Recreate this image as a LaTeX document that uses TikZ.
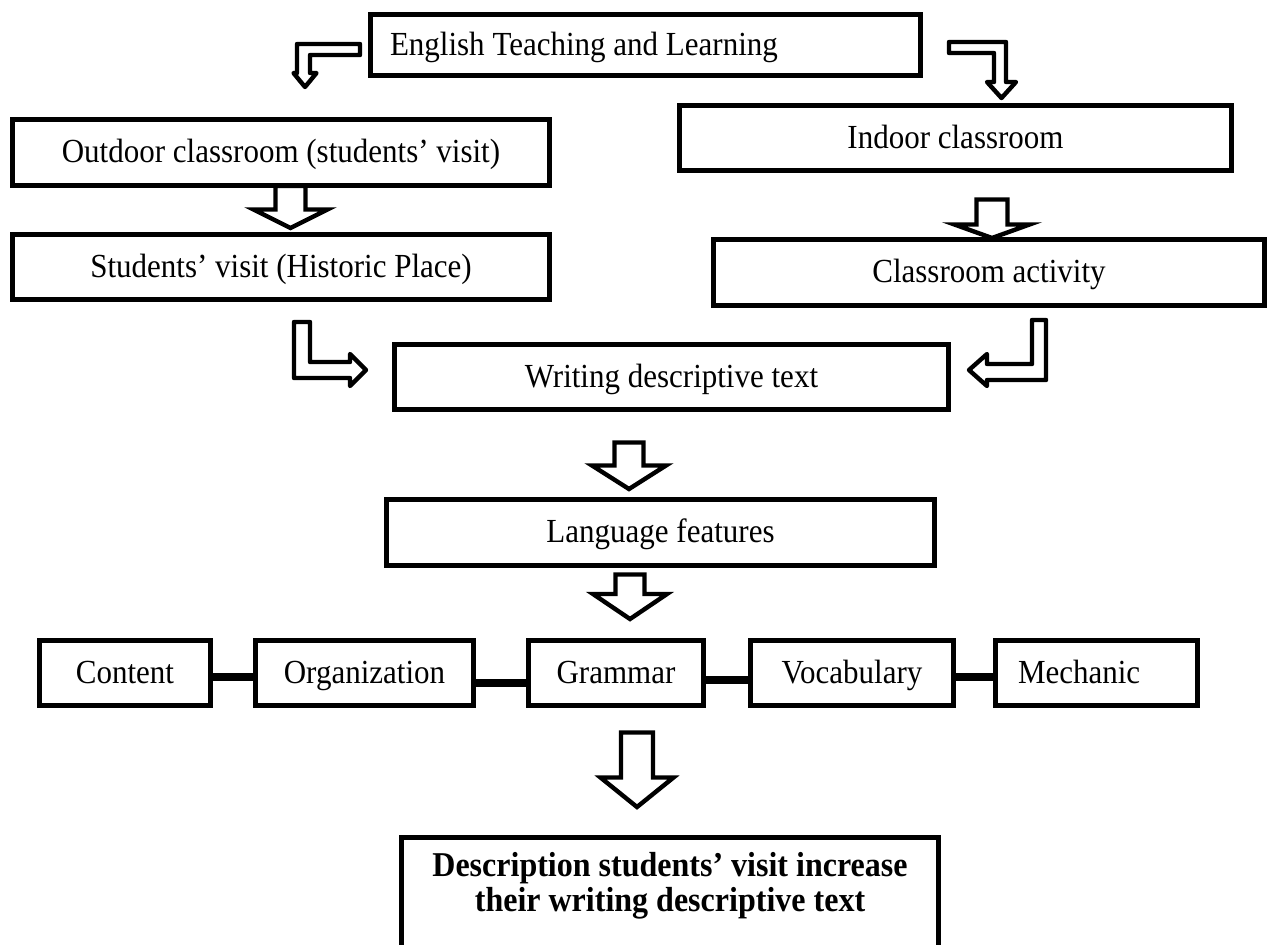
\documentclass[tikz,border=0pt]{standalone}
\usepackage{fontspec}
\setmainfont{Liberation Serif}[FakeStretch=0.92]
\newcommand\dnblock[6]{% cx, top, base, tip, shaft half, head half
  \draw[blockarrow] ({#1-#5},#2) -- ({#1-#5},#3) -- ({#1-#6},#3) -- (#1,#4) -- ({#1+#6},#3) -- ({#1+#5},#3) -- ({#1+#5},#2) -- cycle;}
\tikzset{
  flowbox/.style={draw, line width=2.5pt, rectangle, fill=white, inner sep=0pt,
    font=\fontsize{16.85pt}{19pt}\selectfont, text height=13pt, text depth=2.6pt},
  blockarrow/.style={draw, line width=2.2pt, fill=white, line join=miter},
  bentarrow/.style={draw, line width=2.2pt, fill=white, line join=round},
  link/.style={line width=4pt, line cap=round},
}
\begin{document}
\begin{tikzpicture}[x=0.5pt, y=-0.5pt]
\useasboundingbox (0,0) rectangle (1281,944);
\fill[white] (0,0) rectangle (1281,944);

% block arrows (down)
\dnblock{290.5}{186}{209.5}{228}{15}{37}
\dnblock{992}{199.5}{224.5}{238}{15.5}{37.5}
\dnblock{629}{442.5}{465.5}{489}{14.5}{37}
\dnblock{630}{574.5}{594}{619}{14.5}{37}
\dnblock{637}{732.5}{777.5}{807}{16}{36.5}

% bent arrows
\draw[bentarrow] (360,44) -- (297,44) -- (297,73) -- (293.5,73) -- (305,87) -- (316.5,73) -- (310,73) -- (310,55) -- (360,55) -- cycle;
\draw[bentarrow] (949,42) -- (1006,42) -- (1006,82) -- (1016,82) -- (1001.5,98) -- (987,82) -- (994,82) -- (994,53) -- (949,53) -- cycle;
\draw[bentarrow] (294,322) -- (310,322) -- (310,362) -- (350,362) -- (350,354) -- (366,370) -- (350,386) -- (350,378) -- (294,378) -- cycle;
\draw[bentarrow] (1046,320) -- (1032,320) -- (1032,364) -- (987,364) -- (987,354) -- (969,370) -- (987,386) -- (987,380) -- (1046,380) -- cycle;

% boxes
\node[flowbox, minimum width=275pt, minimum height=30.5pt] (etl) at (645.5,45) {\makebox[255.5pt][l]{English Teaching and Learning}};
\node[flowbox, minimum width=268.5pt, minimum height=33pt] (outdoor) at (281,152.5) {Outdoor classroom (students’ visit)};
\node[flowbox, minimum width=268.5pt, minimum height=32.5pt] (visit) at (281,267) {Students’ visit (Historic Place)};
\node[flowbox, minimum width=276pt, minimum height=32.5pt] (indoor) at (955.5,138) {Indoor classroom};
\node[flowbox, minimum width=275.5pt, minimum height=33pt] (activity) at (989,272.5) {Classroom activity};
\node[flowbox, minimum width=277pt, minimum height=32.5pt] (writing) at (671.5,377) {Writing descriptive text};
\node[flowbox, minimum width=274pt, minimum height=33pt] (language) at (660.5,532.5) {Language features};

\node[flowbox, minimum width=85.5pt, minimum height=32.5pt] (content) at (125,673) {Content};
\node[flowbox, minimum width=109pt, minimum height=32.5pt] (organization) at (364.5,673) {Organization};
\node[flowbox, minimum width=87.5pt, minimum height=32.5pt] (grammar) at (616,673) {Grammar};
\node[flowbox, minimum width=101.5pt, minimum height=32.5pt] (vocabulary) at (852,673) {Vocabulary};
\node[flowbox, minimum width=101pt, minimum height=32.5pt] (mechanic) at (1096.5,673) {\makebox[78.5pt][l]{Mechanic}};

\node[flowbox, anchor=north, inner xsep=0pt, inner ysep=7.5pt, text height=, text depth=] (result) at (670,834.5)
  {\parbox[t][70pt][t]{268.5pt}{\centering\fontsize{17.4pt}{17.6pt}\selectfont\bfseries
   Description students’ visit increase\\ their writing descriptive text}};

% connectors
\draw[link] ([yshift=-2pt]content.east) -- ([yshift=-2pt]organization.west);
\draw[link] ([yshift=-5pt]organization.east) -- ([yshift=-5pt]grammar.west);
\draw[link] ([yshift=-3.5pt]grammar.east) -- ([yshift=-3.5pt]vocabulary.west);
\draw[link] ([yshift=-2pt]vocabulary.east) -- ([yshift=-2pt]mechanic.west);
\end{tikzpicture}
\end{document}
